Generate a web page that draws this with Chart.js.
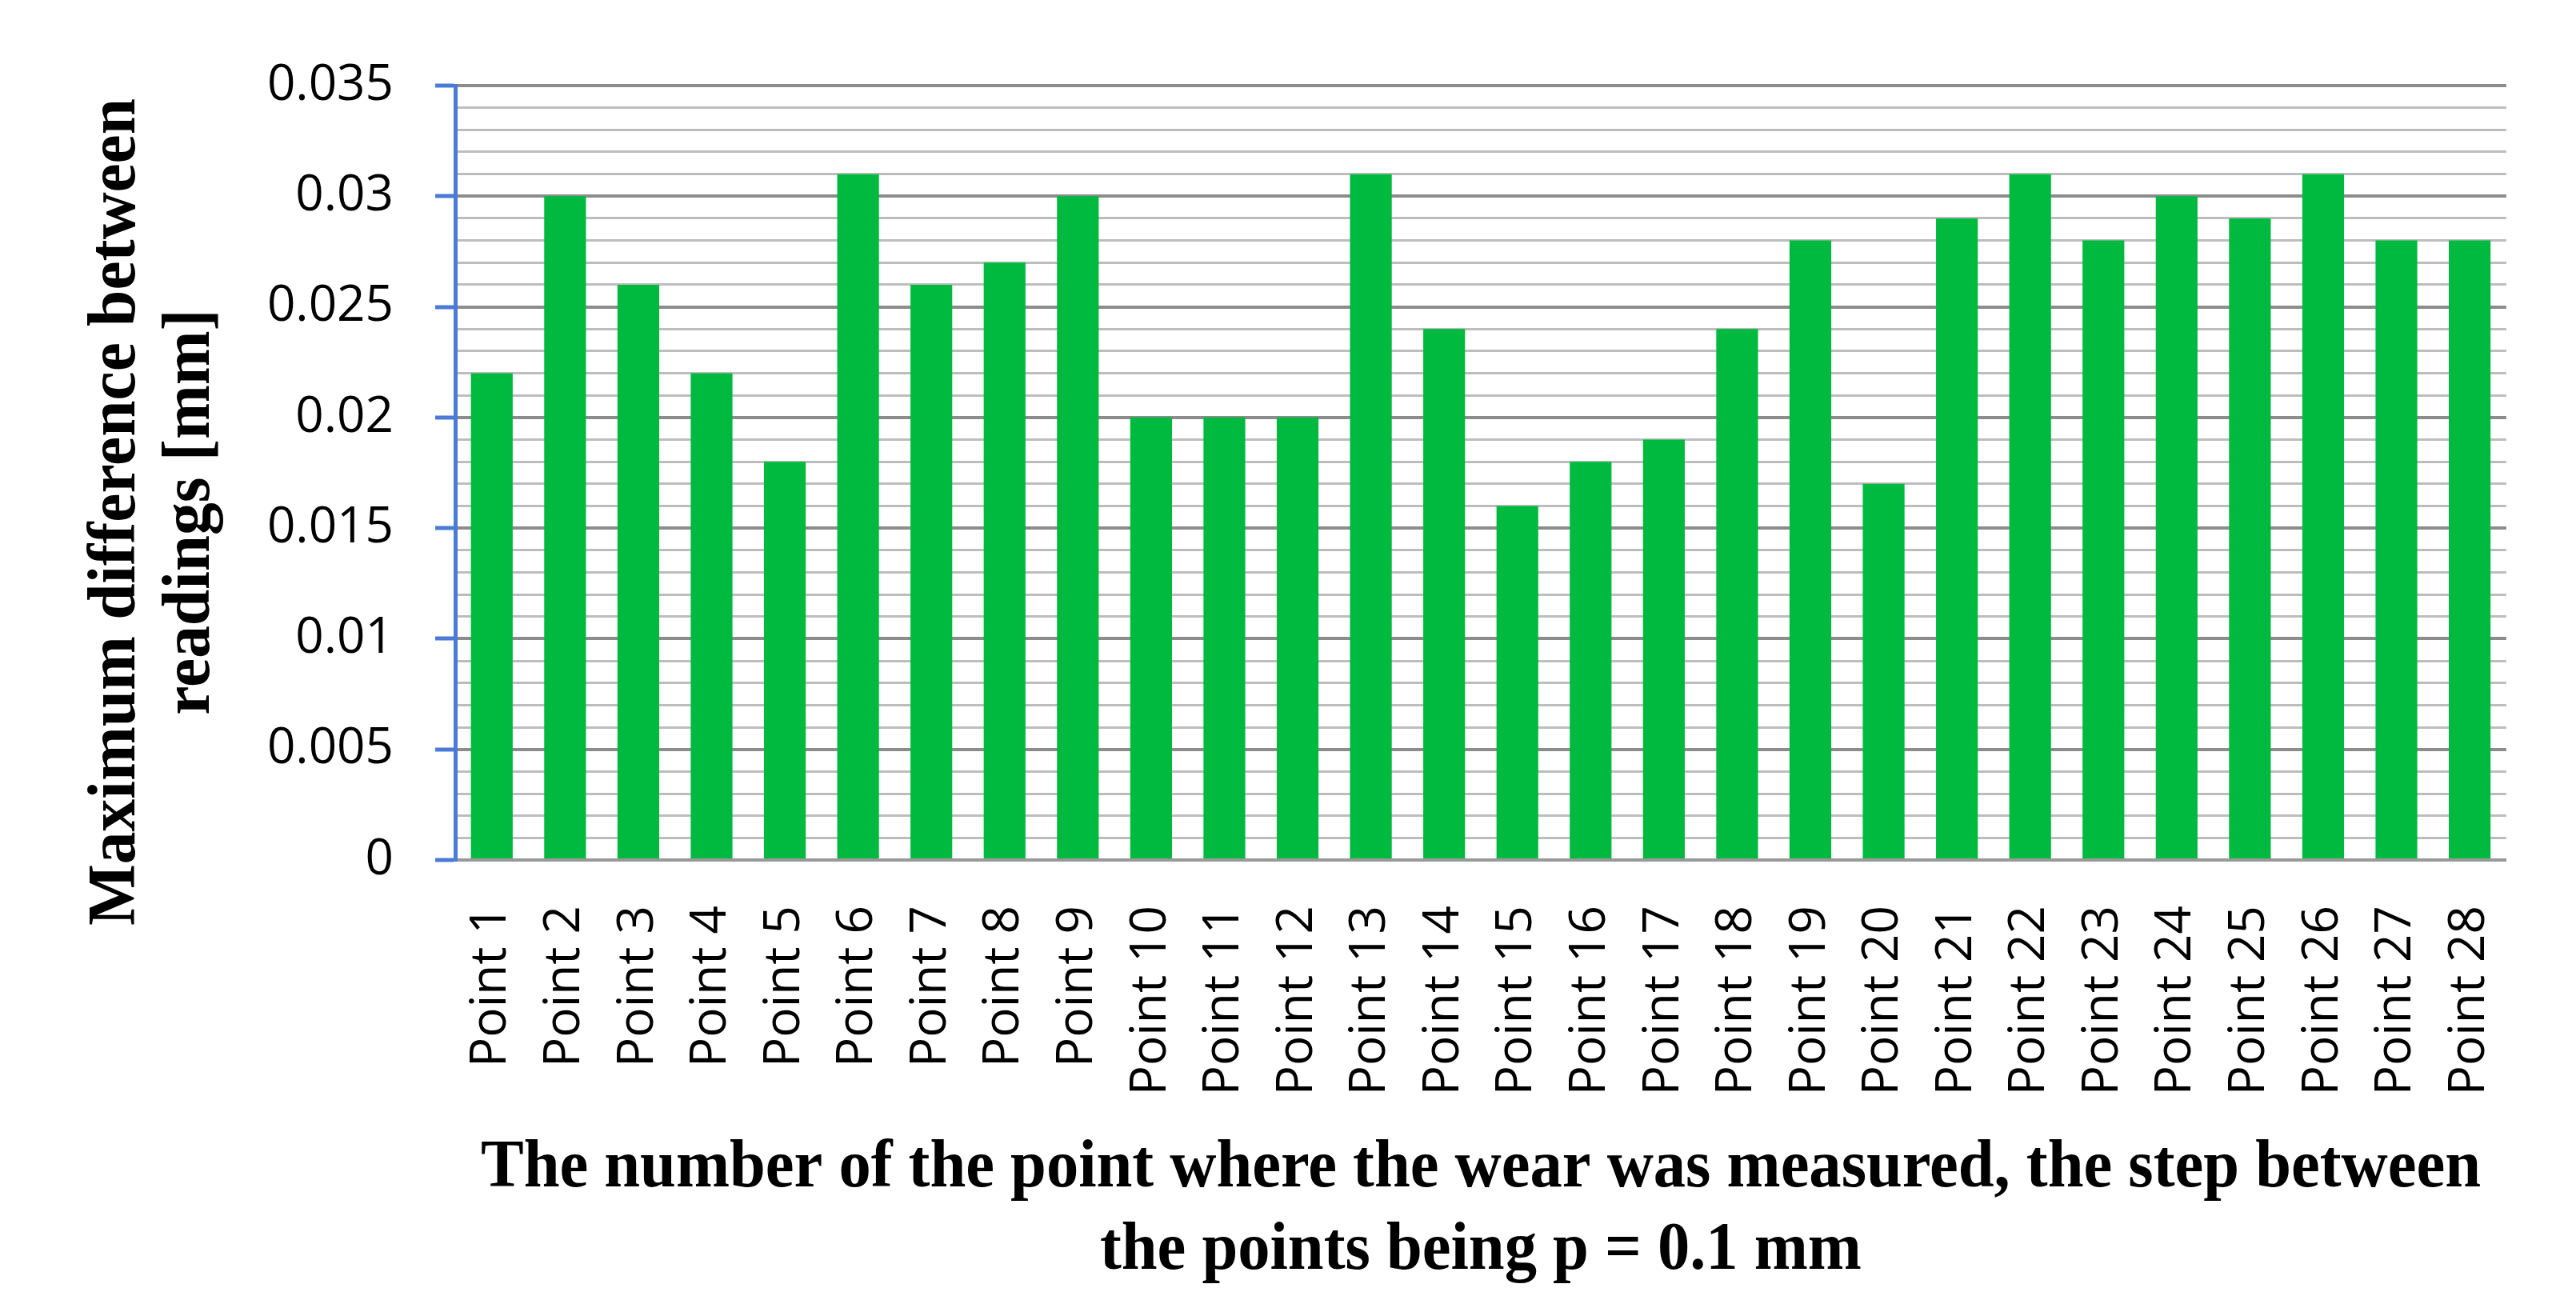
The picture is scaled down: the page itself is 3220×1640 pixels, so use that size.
<!DOCTYPE html>
<html lang="en">
<head>
    <meta charset="UTF-8">
    <title>Maximum difference between readings</title>
    <script src="https://cdn.jsdelivr.net/npm/chart.js@4.4.1/dist/chart.umd.min.js"></script>
    <style>
        body { margin: 0; background: #fff; }
    </style>
</head>
<body>
<canvas id="canvas" width="3220" height="1640"></canvas>
<script>
    // data
    const categories = ["Point 1", "Point 2", "Point 3", "Point 4", "Point 5", "Point 6", "Point 7",
        "Point 8", "Point 9", "Point 10", "Point 11", "Point 12", "Point 13", "Point 14",
        "Point 15", "Point 16", "Point 17", "Point 18", "Point 19", "Point 20", "Point 21",
        "Point 22", "Point 23", "Point 24", "Point 25", "Point 26", "Point 27", "Point 28"];
    const maxDiff = [0.022, 0.030, 0.026, 0.022, 0.018, 0.031, 0.026,
        0.027, 0.030, 0.020, 0.020, 0.020, 0.031, 0.024,
        0.016, 0.018, 0.019, 0.024, 0.028, 0.017, 0.029,
        0.031, 0.028, 0.030, 0.029, 0.031, 0.028, 0.028];
    const yMin = 0;
    const yMax = 0.035;
    const yMinorStep = 0.001;
    const yLabelEvery = 5;   // a labelled tick every 0.005

    const xTitleLines = ["The number of the point where the wear was measured, the step between",
        "the points being p = 0.1 mm"];
    const yTitleLines = ["Maximum difference between", "readings [mm]"];

    const axisBlue = '#4a7bd6';
    const isMajor = v => Math.round(v / yMinorStep) % yLabelEvery === 0;

    // squeezed serif titles, like the narrow Cambria of the original
    function drawSqueezed(ctx, text, x, y, sx) {
        ctx.save();
        ctx.translate(x, y);
        ctx.scale(sx, 1);
        ctx.fillText(text, 0, 0);
        ctx.restore();
    }

    const axisTitles = {
        id: 'axisTitles',
        afterDraw(chart) {
            const ctx = chart.ctx;
            const area = chart.chartArea;
            ctx.save();
            ctx.fillStyle = '#000';
            ctx.textAlign = 'center';
            ctx.textBaseline = 'alphabetic';
            ctx.font = 'bold 84px "Liberation Serif"';

            // x title: two centred lines under the tick labels
            const sxX = 2500 / ctx.measureText(xTitleLines[0]).width;
            const cx = (area.left + area.right) / 2;
            drawSqueezed(ctx, xTitleLines[0], cx, area.bottom + 408, sxX);
            drawSqueezed(ctx, xTitleLines[1], cx, area.bottom + 511, sxX);

            // y title: rotated, reading upwards
            const sxY = 1034 / ctx.measureText(yTitleLines[0]).width;
            ctx.translate(0, area.top + 533);
            ctx.rotate(-Math.PI / 2);
            drawSqueezed(ctx, yTitleLines[0], 0, 168, sxY);
            drawSqueezed(ctx, yTitleLines[1], 0, 261, sxY);
            ctx.restore();
        }
    };

    const chart = new Chart('canvas', {
        type: 'bar',
        data: {
            labels: categories,
            datasets: [{
                data: maxDiff,
                backgroundColor: '#00ba3f',
                borderWidth: 0,
                barPercentage: 0.57,
                categoryPercentage: 1.0
            }]
        },
        options: {
            responsive: false,
            devicePixelRatio: 1,
            animation: false,
            layout: { padding: { top: 107, right: 84, left: 0, bottom: 0 } },
            plugins: {
                legend: { display: false },
                tooltip: { enabled: false }
            },
            scales: {
                x: {
                    afterFit(scale) { scale.height = 565; },
                    grid: { display: false, drawTicks: false },
                    border: { color: '#999999', width: 4 },
                    ticks: {
                        autoSkip: false,
                        minRotation: 90,
                        maxRotation: 90,
                        padding: 57,
                        color: '#000',
                        font: { family: 'Open Sans', size: 62 }
                    }
                },
                y: {
                    min: yMin,
                    max: yMax,
                    afterFit(scale) { scale.width = 569; },
                    grid: {
                        color: c => isMajor(c.tick.value) ? '#8c8c8c' : '#bdbdbd',
                        lineWidth: c => isMajor(c.tick.value) ? 4 : 3,
                        tickLength: 25,
                        tickWidth: 5,
                        tickColor: c => isMajor(c.tick.value) ? axisBlue : 'rgba(0,0,0,0)'
                    },
                    border: { color: axisBlue, width: 5 },
                    ticks: {
                        stepSize: yMinorStep,
                        autoSkip: false,
                        padding: 52,
                        color: '#000',
                        font: { family: 'Open Sans', size: 62 },
                        callback: v => isMajor(v) ? String(+v.toFixed(3)) : ''
                    }
                }
            }
        },
        plugins: [axisTitles]
    });
</script>
</body>
</html>
